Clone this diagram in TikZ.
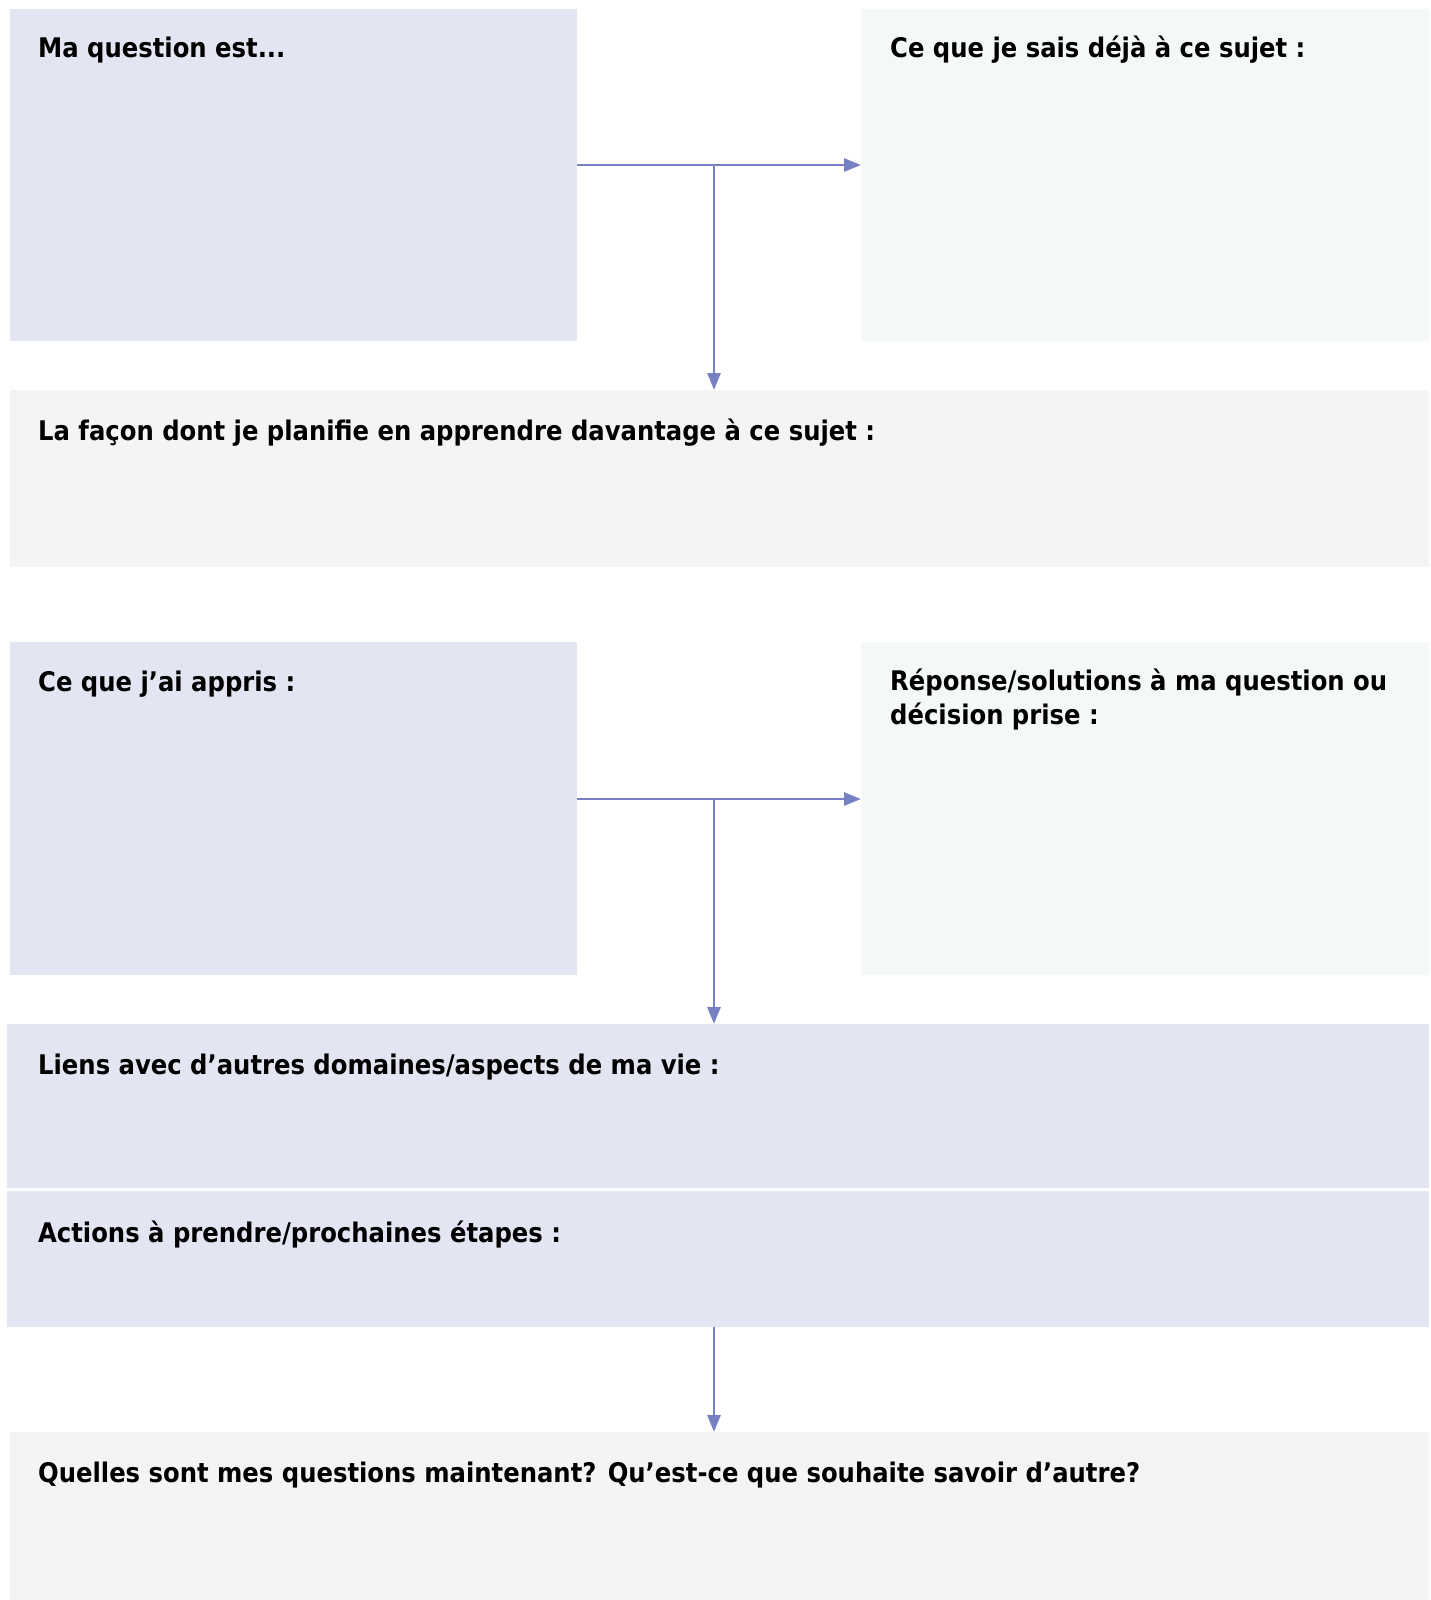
\documentclass[tikz,border=0pt]{standalone}
\usepackage{fontspec}
\setmainfont{DejaVu Sans Condensed}
\usepackage{xcolor}
\usetikzlibrary{calc}
\usetikzlibrary{positioning}
\usetikzlibrary{arrows.meta}

\definecolor{lavender}{HTML}{E3E5F2}
\definecolor{mint}{HTML}{F5F9F6}
\definecolor{pale}{HTML}{F4F4F4}
\definecolor{flowblue}{HTML}{7880C4}

\tikzset{
  panel/.style={draw=none, rectangle, inner sep=0pt, anchor=north west},
  title/.style={anchor=base west, inner sep=0pt, font=\bfseries\fontsize{27}{34}\selectfont, align=left},
  flow/.style={draw=flowblue, line width=2.8pt, -{Triangle[length=17pt,width=13pt]}},
  link/.style={draw=flowblue, line width=2.8pt}
}

\begin{document}
\begin{tikzpicture}[x=1pt, y=-1pt]

\useasboundingbox[fill=white] (0,0) rectangle (1430,1600);

% top row
\node[panel, fill=lavender, minimum width=567pt, minimum height=332pt] (question) at (10,9) {};
\node[panel, fill=mint, minimum width=568pt, minimum height=332pt] (known) at (861,9) {};
\node[panel, fill=pale, minimum width=1419pt, minimum height=177pt] (plan) at (10,390) {};

% middle row
\node[panel, fill=lavender, minimum width=567pt, minimum height=333pt] (learned) at (10,642) {};
\node[panel, fill=mint, minimum width=568pt, minimum height=333pt] (answer) at (861,642) {};
\node[panel, fill=lavender, minimum width=1422pt, minimum height=164pt] (links) at (7,1024) {};
\node[panel, fill=lavender, minimum width=1422pt, minimum height=136pt] (actions) at (7,1191) {};

% bottom
\node[panel, fill=pale, minimum width=1419pt, minimum height=168pt] (next) at (10,1432) {};

% titles (base west sits on the last line)
\node[title] (tquestion) at ($(question.north west)+(28,49)$) {Ma question est...};
\node[title] (tknown) at ($(known.north west)+(29,49)$) {Ce que je sais déjà à ce sujet :};
\node[title] (tplan) at ($(plan.north west)+(28,50)$) {La façon dont je planifie en apprendre davantage à ce sujet :};
\node[title] (tlearned) at ($(learned.north west)+(28,49)$) {Ce que j’ai appris :};
\node[title] (tanswer) at ($(answer.north west)+(29,82)$) {Réponse/solutions à ma question ou\\décision prise :};
\node[title] (tlinks) at ($(links.north west)+(31,50)$) {Liens avec d’autres domaines/aspects de ma vie :};
\node[title] (tactions) at ($(actions.north west)+(31,51)$) {Actions à prendre/prochaines étapes :};
\node[title] (tnext) at ($(next.north west)+(28,50)$) {Quelles sont mes questions maintenant? Qu’est-ce que souhaite savoir d’autre?};

% connectors
\coordinate (fork1) at (714,165);
\coordinate (fork2) at (714,799);

\path[link] (fork1 -| question.east) -- (fork1);
\path[flow] (fork1) -- (fork1 -| known.west);
\path[flow] (fork1) -- (fork1 |- plan.north);

\path[link] (fork2 -| learned.east) -- (fork2);
\path[flow] (fork2) -- (fork2 -| answer.west);
\path[flow] (fork2) -- (fork2 |- links.north);

\path[flow] (actions.south -| fork2) -- (next.north -| fork2);

\end{tikzpicture}
\end{document}
